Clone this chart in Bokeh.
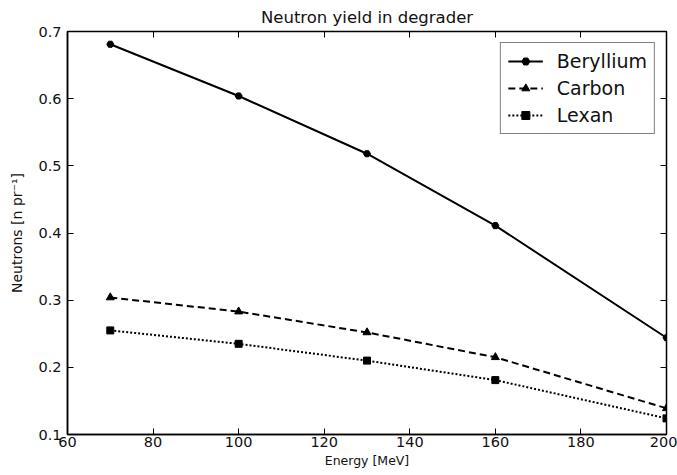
from bokeh.plotting import figure
from bokeh.models import LinearAxis, Range1d, Legend, LegendItem, FixedTicker
from bokeh.embed import file_html
from bokeh.resources import INLINE

energy = [70, 100, 130, 160, 200]
beryllium = [0.681, 0.604, 0.518, 0.411, 0.244]
carbon = [0.304, 0.283, 0.252, 0.215, 0.139]
lexan = [0.255, 0.235, 0.210, 0.181, 0.124]
xticks = [60, 80, 100, 120, 140, 160, 180, 200]
yticks = [0.1, 0.2, 0.3, 0.4, 0.5, 0.6, 0.7]

FONT = "DejaVu Sans"

p = figure(frame_width=599, frame_height=403, output_backend="svg", toolbar_location=None,
           x_range=Range1d(60, 200), y_range=Range1d(0.1, 0.7),
           title="Neutron yield in degrader",
           min_border_left=67, min_border_right=11, min_border_top=31, min_border_bottom=41,
           x_axis_label="Energy [MeV]", y_axis_label="Neutrons [n pr⁻¹]")
p.title.align = "center"
p.title.text_font = FONT
p.title.text_font_size = "16.5px"
p.title.text_font_style = "normal"
p.title.text_color = "#111111"
p.title.standoff = 9
p.title.offset = 0
p.grid.visible = False
p.outline_line_color = "black"
p.outline_line_width = 1.5
p.background_fill_color = "white"
p.border_fill_color = "white"

for ax in [p.xaxis[0], p.yaxis[0]]:
    ax.major_tick_in = 6
    ax.major_tick_out = 0
    ax.minor_tick_line_color = None
    ax.major_label_text_font = FONT
    ax.major_label_text_font_size = "14.5px"
    ax.major_label_text_color = "#111111"
    ax.axis_label_text_font = FONT
    ax.axis_label_text_font_size = "14px"
    ax.axis_label_text_font_style = "normal"
    ax.axis_label_text_color = "#111111"
    ax.axis_line_color = "black"
    ax.axis_line_width = 1.5
p.xaxis[0].ticker = FixedTicker(ticks=xticks)
p.yaxis[0].ticker = FixedTicker(ticks=yticks)
p.xaxis[0].axis_label_standoff = 3
p.xaxis[0].axis_label_text_font_size = "12.5px"
p.yaxis[0].axis_label_standoff = 10
p.xaxis[0].major_label_standoff = 2
p.yaxis[0].major_label_standoff = 6

top = LinearAxis(ticker=FixedTicker(ticks=xticks))
right = LinearAxis(ticker=FixedTicker(ticks=yticks))
for ax in [top, right]:
    ax.major_tick_in = 6
    ax.major_tick_out = 0
    ax.minor_tick_line_color = None
    ax.major_label_text_color = None
    ax.major_label_text_font_size = "1px"
    ax.major_label_standoff = 0
    ax.axis_line_color = None
p.add_layout(top, "above")
p.add_layout(right, "right")

r1 = p.line(energy, beryllium, line_color="black", line_width=2)
m1 = p.scatter(energy, beryllium, marker="hex", size=7, color="black")
r2 = p.line(energy, carbon, line_color="black", line_width=2, line_dash="7 4")
m2 = p.scatter(energy, carbon, marker="triangle", size=8, color="black")
r3 = p.line(energy, lexan, line_color="black", line_width=2, line_dash="2 2")
m3 = p.scatter(energy, lexan, marker="square", size=7, color="black")

legend = Legend(items=[
    LegendItem(label="Beryllium", renderers=[r1, m1]),
    LegendItem(label="Carbon", renderers=[r2, m2]),
    LegendItem(label="Lexan", renderers=[r3, m3]),
], location="top_right")
legend.label_text_font = FONT
legend.label_text_font_size = "19px"
legend.label_text_color = "#111111"
legend.border_line_color = "black"
legend.border_line_width = 1
legend.margin = 11
legend.padding = 7
legend.spacing = 5
legend.glyph_width = 35
legend.label_standoff = 14
p.add_layout(legend)

open("out.html", "w").write(file_html(p, INLINE))
